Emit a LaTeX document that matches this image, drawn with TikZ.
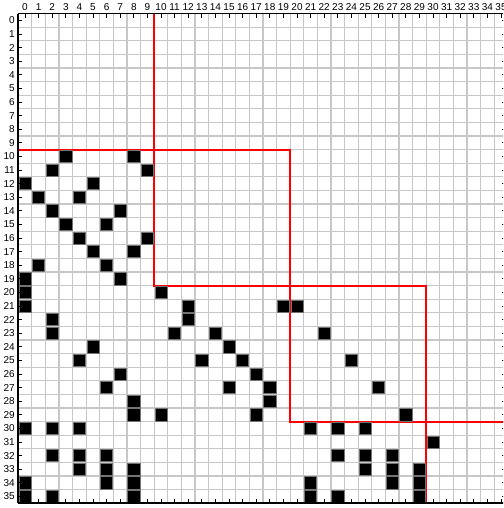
\documentclass[tikz,border=0pt]{standalone}
\usepackage{fontspec}
\setmainfont{Liberation Sans}
\begin{document}
\begin{tikzpicture}[x=1pt,y=-1pt,
  gridline/.style={draw=black!22, line width=1.1pt},
  axisline/.style={draw=black, line width=1.8pt},
  tickline/.style={draw=black, line width=0.8pt},
  blockline/.style={draw=red, line width=1.9pt},
  cellbox/.style={fill=black, draw=black!55, line width=0.6pt},
  lbl/.style={font=\fontsize{10}{10}\selectfont, inner sep=0pt}]
\clip (0,0) rectangle (503,508);
\fill[white] (0,0) rectangle (503,508);
\begin{scope}[shift={(18.2,13.6)}, x=13.6pt, y=-13.6pt]
  % grid
  \foreach \i in {0,...,36} {
    \draw[gridline] (\i,0) -- (\i,36);
    \draw[gridline] (0,\i) -- (36,\i);
  }
  % block boundaries
  \coordinate (a0) at (10,0);
  \coordinate (a1) at (10,20);
  \coordinate (a2) at (30,20);
  \coordinate (a3) at (30,36);
  \coordinate (b0) at (0,10);
  \coordinate (b1) at (20,10);
  \coordinate (b2) at (20,30);
  \coordinate (b3) at (36,30);
  \draw[blockline] (a0) -- (a1) -- (a2) -- (a3);
  \draw[blockline] (b0) -- (b1) -- (b2) -- (b3);
  % nonzero cells (row/col)
  \foreach \r/\c in {10/3,10/8,11/2,11/9,12/0,12/5,13/1,13/4,14/2,14/7,
      15/3,15/6,16/4,16/9,17/5,17/8,18/1,18/6,19/0,19/7,
      20/0,20/10,21/0,21/12,21/19,21/20,22/2,22/12,
      23/2,23/11,23/14,23/22,24/5,24/15,25/4,25/13,25/16,25/24,
      26/7,26/17,27/6,27/15,27/18,27/26,28/8,28/18,
      29/8,29/10,29/17,29/28,
      30/0,30/2,30/4,30/21,30/23,30/25,31/30,
      32/2,32/4,32/6,32/23,32/25,32/27,
      33/4,33/6,33/8,33/25,33/27,33/29,
      34/0,34/6,34/8,34/21,34/27,34/29,
      35/0,35/2,35/8,35/21,35/23,35/29} {
    \filldraw[cellbox] (\c+0.05,\r+0.05) rectangle (\c+0.95,\r+0.95);
  }
  % ticks and labels
  \foreach \i in {0,...,35} {
    \draw[tickline] (\i+0.5,0) -- (\i+0.5,0.3);
    \draw[tickline] (0,\i+0.5) -- (0.3,\i+0.5);
    \draw[tickline] (\i+0.5,36) -- (\i+0.5,35.72);
    \draw[tickline] (36,\i+0.5) -- (35.55,\i+0.5);
    \node[lbl] (top\i) at (\i+0.5,-0.47) {\i};
    \node[lbl, anchor=east] (left\i) at (-0.24,\i+0.5) {\i};
  }
  % axes
  \draw[axisline] (0,0) -- (0,36);
  \draw[axisline] (0,0) -- (36,0);
  \draw[axisline] (0,36) -- (36,36);
  \draw[axisline] (36,0) -- (36,36);
\end{scope}
\end{tikzpicture}
\end{document}
